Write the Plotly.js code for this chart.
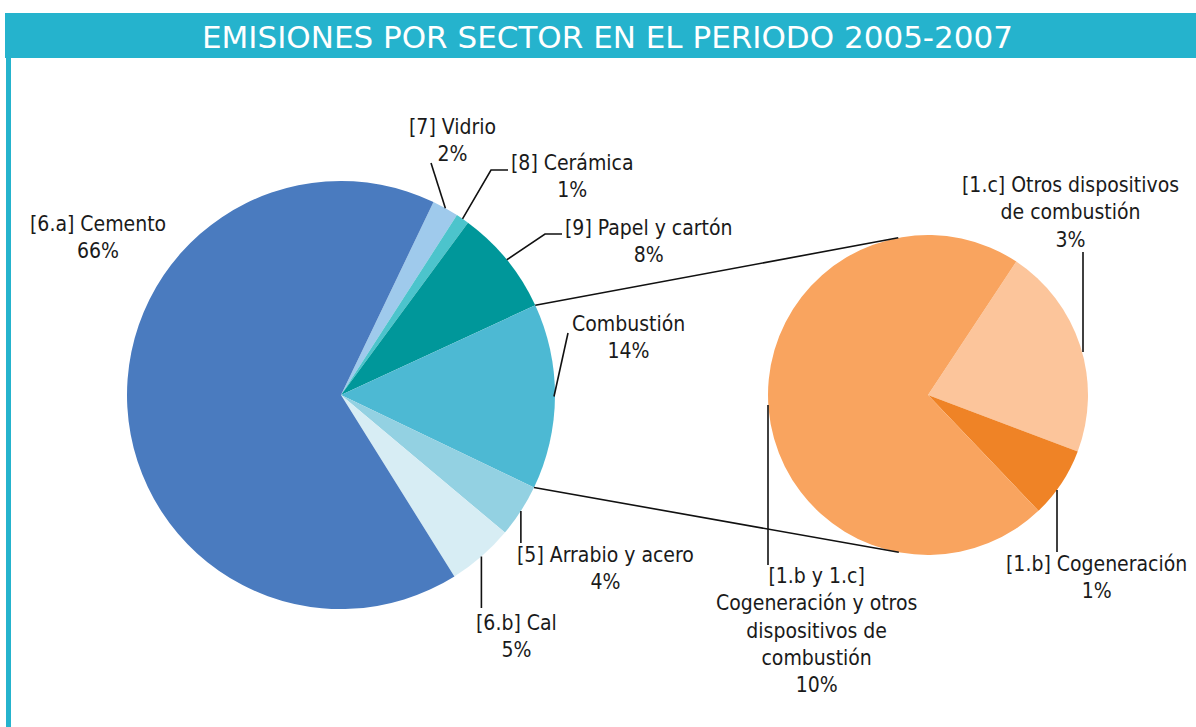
<!DOCTYPE html>
<html><head><meta charset="utf-8">
<script src="https://cdn.plot.ly/plotly-3.0.1.min.js"></script>
<style>html,body{margin:0;padding:0;background:#fff;overflow:hidden}</style>
</head><body><div id="chart" style="width:1196px;height:727px"></div>
<script>
// ---- data ----
const titleText = 'EMISIONES POR SECTOR EN EL PERIODO 2005-2007';
const leftLabels = ['[7] Vidrio', '[8] Cerámica', '[9] Papel y cartón', 'Combustión', '[5] Arrabio y acero', '[6.b] Cal', '[6.a] Cemento'];
const leftValues = [2, 1, 8, 14, 4, 5, 66];
const rightLabels = ['[1.c] Otros dispositivos<br>de combustión', '[1.b] Cogeneración', '[1.b y 1.c]<br>Cogeneración y otros<br>dispositivos de<br>combustión'];
const rightValues = [3, 1, 10];

// ---- styles / layout ----
const leftColors = ['#9fcaec', '#4cc4cc', '#00979a', '#4db9d3', '#93d1e2', '#d7edf4', '#4a7bbf'];
const rightColors = ['#fcc59b', '#ef8326', '#f9a45f'];
const W = 1196, H = 727;
const FONT = '"DejaVu Sans Condensed", "Liberation Sans", sans-serif';
const TITLE_FONT = '"DejaVu Sans", "Liberation Sans", sans-serif';
const TEXT_COLOR = '#1a1a1a';
const LABEL_SIZE = 21;
const LP = {cx: 341, cy: 395, r: 214, rot: 25.6};
const RP = {cx: 928, cy: 395, r: 160, rot: 33.5};
const explodedIndex = 3; // Combustión is broken down on the right
// label centres (px) and leader routes relative to slice edge
const leftLabelPos = [[452, 140], [572, 176], [649, 241], [628, 338], [605, 568], [516, 636], [98, 237]];
const leftLeader = [
  e => [e, [431, 163]],
  e => [e, [491, 170], [508, 170]],
  e => [e, [545, 234], [562, 234]],
  e => [[e[0] - 1, e[1]], [568, 333]],
  e => [e, [e[0], 543]],
  e => [e, [e[0], 608]],
  null
];
const rightLabelPos = [[1070, 212], [1096, 577], [816, 630]];
const rightLeader = [
  e => [[1083, 352], [1083, 252]],
  e => [[1057, 490], [1057, 552]],
  e => [[768, 405], [768, 565]]
];
const rightConnectAngles = [349.3, 190.5];

const px = x => x / W, py = y => 1 - y / H;
function dom(p) { return {x: [px(p.cx - p.r), px(p.cx + p.r)], y: [py(p.cy + p.r), py(p.cy - p.r)]}; }
function sliceAngles(vals, rot) {
  const t = vals.reduce((a, b) => a + b, 0); let a = rot;
  return vals.map(v => { const s = a; a += v / t * 360; return {s: s, e: a, m: (s + a) / 2}; });
}
function pt(p, deg) { const r = deg * Math.PI / 180; return [p.cx + p.r * Math.sin(r), p.cy - p.r * Math.cos(r)]; }

const shapes = [];
const annotations = [];
function line(points) {
  const path = points.map((q, i) => (i ? 'L' : 'M') + px(q[0]).toFixed(5) + ',' + py(q[1]).toFixed(5)).join(' ');
  shapes.push({type: 'path', xref: 'paper', yref: 'paper', path: path, line: {color: '#111', width: 1.6}});
}
// header bar + left border
shapes.push({type: 'rect', xref: 'paper', yref: 'paper', x0: px(5), x1: px(1196), y0: py(58), y1: py(13), fillcolor: '#25b3cd', line: {width: 0}, layer: 'below'});
shapes.push({type: 'rect', xref: 'paper', yref: 'paper', x0: px(6), x1: px(11), y0: py(727), y1: py(58), fillcolor: '#25b3cd', line: {width: 0}, layer: 'below'});
annotations.push({xref: 'paper', yref: 'paper', x: px(607), y: py(37), xanchor: 'center', yanchor: 'middle', showarrow: false,
  text: titleText, font: {family: TITLE_FONT, size: 31, color: '#ffffff'}});

const la = sliceAngles(leftValues, LP.rot);
const ra = sliceAngles(rightValues, RP.rot);
const tot = leftValues.reduce((a, b) => a + b, 0);

leftLabels.forEach((lab, i) => {
  const pos = leftLabelPos[i];
  annotations.push({xref: 'paper', yref: 'paper', x: px(pos[0]), y: py(pos[1]), xanchor: 'center', yanchor: 'middle', showarrow: false,
    text: lab + '<br>' + Math.round(leftValues[i] / tot * 100) + '%', font: {family: FONT, size: LABEL_SIZE, color: TEXT_COLOR}});
  if (leftLeader[i]) line(leftLeader[i](pt(LP, la[i].m)));
});
rightLabels.forEach((lab, i) => {
  const pos = rightLabelPos[i];
  annotations.push({xref: 'paper', yref: 'paper', x: px(pos[0]), y: py(pos[1]), xanchor: 'center', yanchor: 'middle', showarrow: false,
    text: lab + '<br>' + rightValues[i] + '%', font: {family: FONT, size: LABEL_SIZE, color: TEXT_COLOR}});
  line(rightLeader[i](pt(RP, ra[i].m)));
});
// connectors between the exploded slice and the breakdown pie
line([pt(LP, la[explodedIndex].s), pt(RP, rightConnectAngles[0])]);
line([pt(LP, la[explodedIndex].e), pt(RP, rightConnectAngles[1])]);

const common = {type: 'pie', sort: false, direction: 'clockwise', textinfo: 'none', hoverinfo: 'label+value', showlegend: false};
const data = [
  Object.assign({}, common, {labels: leftLabels, values: leftValues, rotation: LP.rot, domain: dom(LP), marker: {colors: leftColors, line: {width: 0}}}),
  Object.assign({}, common, {labels: rightLabels, values: rightValues, rotation: RP.rot, domain: dom(RP), marker: {colors: rightColors, line: {width: 0}}})
];
const layout = {width: W, height: H, autosize: false, margin: {l: 0, r: 0, t: 0, b: 0, pad: 0},
  paper_bgcolor: '#ffffff', plot_bgcolor: '#ffffff', shapes: shapes, annotations: annotations, font: {family: FONT}};
Plotly.newPlot('chart', data, layout, {displayModeBar: false, staticPlot: true});
</script></body></html>
